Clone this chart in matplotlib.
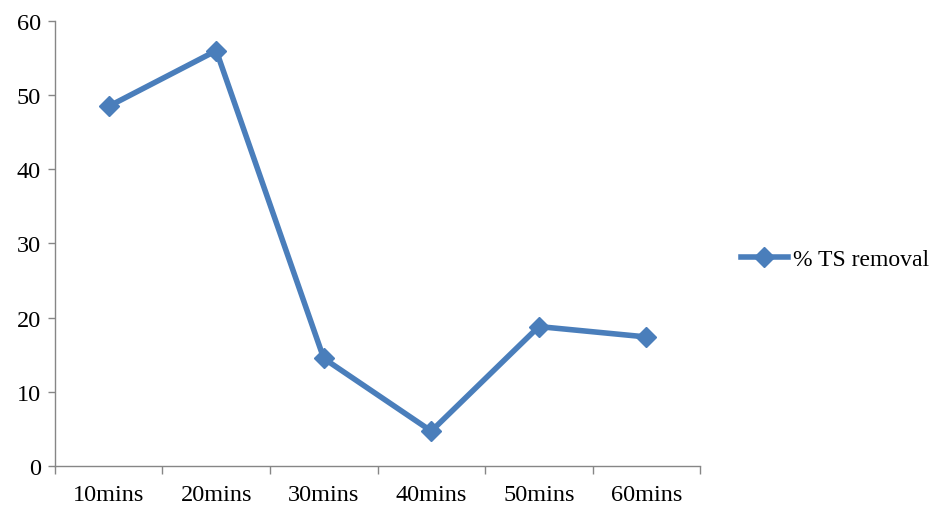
import matplotlib.pyplot as plt
import numpy as np

times = ["10mins", "20mins", "30mins", "40mins", "50mins", "60mins"]
ts_removal = [48.5, 56.0, 14.5, 4.7, 18.8, 17.4]

plt.rcParams['font.family'] = ['Liberation Serif', 'DejaVu Serif']

fig = plt.figure(figsize=(9.38, 5.06), dpi=100)
ax = fig.add_axes([0.0586, 0.0771, 0.6878, 0.8794])

x = np.arange(len(times))
ax.plot(x, ts_removal, color="#4A7EBB", linewidth=4, marker="D",
        markersize=10, label="% TS removal")

ax.set_xlim(-0.5, len(times) - 0.5)
ax.set_ylim(0, 60)
ax.set_yticks(range(0, 61, 10))

# category labels sit between the boundary ticks
ax.set_xticks(x)
ax.set_xticklabels(times)
ax.set_xticks(np.arange(-0.5, len(times), 1.0), minor=True)
ax.tick_params(axis="x", which="major", length=0, pad=13, labelsize=17.5)
ax.tick_params(axis="x", which="minor", length=6, width=1, color="#868686", direction="out")
ax.tick_params(axis="y", length=5, width=1, color="#868686", pad=5, labelsize=17.5)

for side in ["top", "right"]:
    ax.spines[side].set_visible(False)
for side in ["left", "bottom"]:
    ax.spines[side].set_color("#868686")
    ax.spines[side].set_linewidth(1)

ax.legend(loc="center left", bbox_to_anchor=(1.03, 0.465), frameon=False,
          fontsize=17, handlelength=2.0, handletextpad=0.2)

plt.savefig("out.png", dpi=100)
